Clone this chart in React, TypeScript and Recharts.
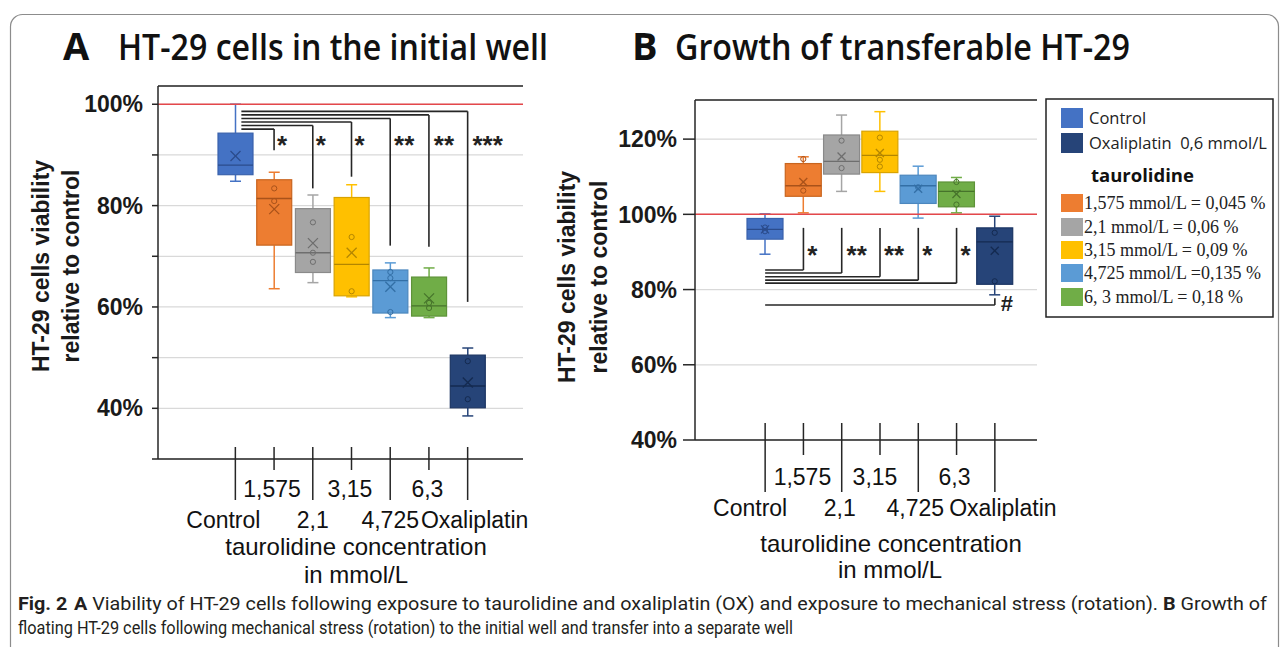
import React from "react";
import { ComposedChart, Bar, XAxis, YAxis, CartesianGrid, ReferenceLine, ReferenceDot } from "recharts";

// groups on the x axis (same order in both panels)
const categories = ["Control", "1,575", "2,1", "3,15", "4,725", "6,3", "Oxaliplatin"];

// Panel A: HT-29 cells in the initial well (% of control)
const aMin = [84.8, 63.6, 64.8, 62.0, 57.9, 57.9, 38.5];
const aQ1 = [86.1, 72.2, 66.8, 62.2, 58.8, 58.2, 40.1];
const aMedian = [88.0, 81.4, 70.7, 68.4, 65.2, 60.2, 44.4];
const aQ3 = [94.3, 85.1, 79.4, 81.6, 67.3, 65.9, 50.5];
const aMax = [100.0, 86.6, 82.1, 84.1, 68.7, 67.7, 51.9];
const aMean = [89.8, 79.3, 72.6, 70.7, 64.0, 61.7, 45.1];
const aPoints = [[], [83.4, 80.9], [76.7, 70.7, 68.9], [73.8, 63.1], [66.9, 65.7, 59.0], [60.8, 59.8], [49.3, 41.8]];

// Panel A significance brackets
const aSigTargets = ["1,575", "2,1", "3,15", "4,725", "6,3", "Oxaliplatin"];
const aSigLevel = [95.1, 95.8, 96.5, 97.2, 97.9, 98.6];
const aSigEnd = [90.9, 83.4, 85.7, 72.1, 71.9, 61.0];
const aSigMarks = ["*", "*", "*", "**", "**", "***"];
const aStarY = 93.2;

// Panel B: growth of transferable HT-29
const bMin = [89.4, 100.4, 106.1, 106.1, 99.0, 100.4, 78.6];
const bQ1 = [93.4, 104.8, 110.7, 111.1, 102.9, 102.0, 81.4];
const bMedian = [96.0, 107.6, 114.1, 115.7, 107.6, 106.1, 92.7];
const bQ3 = [98.9, 113.5, 121.1, 122.1, 110.4, 108.6, 96.4];
const bMax = [100.1, 115.3, 126.4, 127.3, 112.8, 109.8, 99.5];
const bMean = [96.0, 108.6, 115.4, 116.3, 106.8, 105.4, 90.3];
const bPoints = [[96.5, 95.5], [114.7, 106.3], [119.6, 112.3], [120.4, 114.5, 112.7], [107.2], [108.6, 102.6], [95.1, 82.2]];

// Panel B significance brackets
const bSigTargets = ["1,575", "2,1", "3,15", "4,725", "6,3"];
const bSigLevel = [85.2, 84.4, 83.4, 82.5, 81.7];
const bSigTop = 96.4;
const bSigMarks = ["*", "**", "**", "*", "*"];
const bStarY = 90.9;
const bHashLevel = 75.9;
const bHashTop = 77.7;

const legendDrug = ["Control", "Oxaliplatin  0,6 mmol/L"];
const legendTauro = [
  "1,575 mmol/L = 0,045 %",
  "2,1 mmol/L = 0,06 %",
  "3,15 mmol/L = 0,09 %",
  "4,725 mmol/L =0,135 %",
  "6, 3 mmol/L = 0,18 %",
];

const FILLS = ["#4472C4", "#ED7D31", "#A5A5A5", "#FFC000", "#5B9BD5", "#70AD47", "#264478"];
const EDGES = ["#3A62AC", "#C8651F", "#8A8A8A", "#D9A300", "#4C87BE", "#5E9339", "#1B3563"];
const DARK = ["#2B4C8C", "#A9521A", "#6E6E6E", "#B38600", "#336FA6", "#46732B", "#142a50"];

const SANS = "'Liberation Sans', Arial, sans-serif";
const LINE = "#262626";

const buildRows = (mn: number[], q1: number[], md: number[], q3: number[], mx: number[], mean: number[], pts: number[][]) =>
  categories.map((name, i) => ({ name, min: mn[i], q1: q1[i], median: md[i], q3: q3[i], max: mx[i], mean: mean[i], points: pts[i] }));

const rowsA = buildRows(aMin, aQ1, aMedian, aQ3, aMax, aMean, aPoints);
const rowsB = buildRows(bMin, bQ1, bMedian, bQ3, bMax, bMean, bPoints);

const boxRange = (d: any) => [d.min, d.max];

// box drawn inside the min..max range bar, using the bar's own pixel scale
const makeBox = (xSize: number) => (props: any) => {
  const { x, y, width, height, payload } = props;
  if (!payload) return <g />;
  const i = categories.indexOf(payload.name);
  const top = Math.min(y, y + height);
  const bottom = Math.max(y, y + height);
  const py = (v: number) => bottom - ((v - payload.min) / (payload.max - payload.min)) * (bottom - top);
  const cx = x + width / 2;
  const cap = 5.5;
  const yMean = py(payload.mean);
  return (
    <g>
      <line x1={cx} x2={cx} y1={py(payload.max)} y2={py(payload.q3)} stroke={FILLS[i]} strokeWidth={1.5} />
      <line x1={cx} x2={cx} y1={py(payload.q1)} y2={py(payload.min)} stroke={FILLS[i]} strokeWidth={1.5} />
      <line x1={cx - cap} x2={cx + cap} y1={py(payload.max)} y2={py(payload.max)} stroke={FILLS[i]} strokeWidth={1.5} />
      <line x1={cx - cap} x2={cx + cap} y1={py(payload.min)} y2={py(payload.min)} stroke={FILLS[i]} strokeWidth={1.5} />
      <rect x={x} y={py(payload.q3)} width={width} height={py(payload.q1) - py(payload.q3)} fill={FILLS[i]} stroke={EDGES[i]} strokeWidth={1.2} />
      <line x1={x} x2={x + width} y1={py(payload.median)} y2={py(payload.median)} stroke={DARK[i]} strokeWidth={1.3} />
      {payload.points.map((v: number, k: number) => (
        <circle key={k} cx={cx} cy={py(v)} r={2.6} fill="none" stroke={DARK[i]} strokeWidth={1} />
      ))}
      <line x1={cx - xSize} x2={cx + xSize} y1={yMean - xSize} y2={yMean + xSize} stroke={DARK[i]} strokeWidth={1.3} />
      <line x1={cx - xSize} x2={cx + xSize} y1={yMean + xSize} y2={yMean - xSize} stroke={DARK[i]} strokeWidth={1.3} />
    </g>
  );
};

type TickCfg = { top: number; longBottom: number; shortBottom: number; row1: number; row2: number; dx: number[] };
const TICK_A: TickCfg = { top: -12, longBottom: 41, shortBottom: 11, row1: 38, row2: 69, dx: [-12, -2, 0, -1.5, 0, -1.5, 7] };
const TICK_B: TickCfg = { top: -17, longBottom: 52, shortBottom: 15, row1: 45, row2: 76, dx: [-15, -1, -2, -5, -3, -2, 8] };

const CategoryTick = ({ x, y, payload, index, cfg }: any) => {
  const even = index % 2 === 0;
  return (
    <g>
      <line x1={x} x2={x} y1={y + cfg.top} y2={y + (even ? cfg.longBottom : cfg.shortBottom)} stroke={LINE} strokeWidth={1.5} />
      <text x={x + cfg.dx[index]} y={y + (even ? cfg.row2 : cfg.row1)} textAnchor="middle" fontSize={23} fontFamily={SANS} fill="#111">
        {payload.value}
      </text>
    </g>
  );
};

const yTick = { fontSize: 23, fontWeight: 700, fill: "#1a1a1a", fontFamily: SANS };

const shiftedLine = (dx: number) => (p: any) => (
  <line x1={p.x1 + dx} y1={p.y1} x2={p.x2} y2={p.y2} stroke={LINE} strokeWidth={1.6} />
);

const starText = (mark: string, dx: number, dy: number, size = 26) => (p: any) => (
  <text x={p.cx + dx} y={p.cy + dy} textAnchor="middle" fontSize={size} fontWeight={700} fontFamily={SANS} fill="#222">
    {mark}
  </text>
);

const aStarDx = [8, 8, 8, 14, 15, 20];
const bStarDx = [9, 15, 14, 9, 9];

function PanelA() {
  return (
    <ComposedChart width={540} height={600} data={rowsA} margin={{ top: 86, right: 17, bottom: 0, left: 0 }}>
      <CartesianGrid vertical={false} stroke="#d9d9d9" strokeWidth={1.2} />
      <XAxis
        dataKey="name"
        type="category"
        interval={0}
        height={141}
        padding={{ left: 58, right: 36 }}
        axisLine={{ stroke: LINE, strokeWidth: 1.5 }}
        tickLine={false}
        tickSize={0}
        tickMargin={0}
        tick={(p: any) => <CategoryTick {...p} cfg={TICK_A} />}
      />
      <YAxis
        type="number"
        width={158}
        domain={[30, 103.6]}
        ticks={[30, 40, 50, 60, 70, 80, 90, 100]}
        interval={0}
        allowDataOverflow
        tickFormatter={(v: number) => (v % 20 === 0 ? `${v}%` : "")}
        tick={yTick}
        tickSize={6}
        tickMargin={9}
        axisLine={{ stroke: LINE, strokeWidth: 1.5 }}
        tickLine={{ stroke: LINE, strokeWidth: 1.5 }}
      />
      <ReferenceLine y={103.6} stroke={LINE} strokeWidth={1.5} />
      <ReferenceLine y={100} stroke="#E4474B" strokeWidth={1.5} />
      <Bar dataKey={boxRange} barSize={35} shape={makeBox(5)} isAnimationActive={false} />
      {aSigTargets.map((t, i) => (
        <ReferenceLine
          key={`h${i}`}
          segment={[{ x: "Control", y: aSigLevel[i] }, { x: t, y: aSigLevel[i] }]}
          shape={shiftedLine(6)}
        />
      ))}
      {aSigTargets.map((t, i) => (
        <ReferenceLine
          key={`v${i}`}
          segment={[{ x: t, y: aSigLevel[i] }, { x: t, y: aSigEnd[i] }]}
          shape={shiftedLine(0)}
        />
      ))}
      {aSigTargets.map((t, i) => (
        <ReferenceDot key={`s${i}`} x={t} y={aStarY} r={1} shape={starText(aSigMarks[i], aStarDx[i], 15)} />
      ))}
    </ComposedChart>
  );
}

function PanelB() {
  return (
    <ComposedChart width={580} height={600} data={rowsB} margin={{ top: 100, right: 83, bottom: 0, left: 0 }}>
      <CartesianGrid vertical={false} stroke="#d9d9d9" strokeWidth={1.2} />
      <XAxis
        dataKey="name"
        type="category"
        interval={0}
        height={160}
        padding={{ left: 51, right: 23 }}
        axisLine={{ stroke: LINE, strokeWidth: 1.5 }}
        tickLine={false}
        tickSize={0}
        tickMargin={0}
        tick={(p: any) => <CategoryTick {...p} cfg={TICK_B} />}
      />
      <YAxis
        type="number"
        width={155}
        domain={[40, 130.4]}
        ticks={[40, 60, 80, 100, 120]}
        interval={0}
        allowDataOverflow
        tickFormatter={(v: number) => `${v}%`}
        tick={yTick}
        tickSize={12}
        tickMargin={6}
        axisLine={{ stroke: LINE, strokeWidth: 1.5 }}
        tickLine={{ stroke: LINE, strokeWidth: 1.5 }}
      />
      <ReferenceLine y={130.4} stroke={LINE} strokeWidth={1.5} />
      <ReferenceLine y={100} stroke="#E4474B" strokeWidth={1.5} />
      <Bar dataKey={boxRange} barSize={36} shape={makeBox(4)} isAnimationActive={false} />
      {bSigTargets.map((t, i) => (
        <ReferenceLine
          key={`h${i}`}
          segment={[{ x: "Control", y: bSigLevel[i] }, { x: t, y: bSigLevel[i] }]}
          shape={shiftedLine(0)}
        />
      ))}
      {bSigTargets.map((t, i) => (
        <ReferenceLine
          key={`v${i}`}
          segment={[{ x: t, y: bSigTop }, { x: t, y: bSigLevel[i] }]}
          shape={shiftedLine(0)}
        />
      ))}
      {bSigTargets.map((t, i) => (
        <ReferenceDot key={`s${i}`} x={t} y={bStarY} r={1} shape={starText(bSigMarks[i], bStarDx[i], 15)} />
      ))}
      <ReferenceLine segment={[{ x: "Control", y: bHashLevel }, { x: "Oxaliplatin", y: bHashLevel }]} shape={shiftedLine(0)} />
      <ReferenceLine segment={[{ x: "Oxaliplatin", y: bHashLevel }, { x: "Oxaliplatin", y: bHashTop }]} shape={shiftedLine(0)} />
      <ReferenceDot x="Oxaliplatin" y={bHashLevel} r={1} shape={starText("#", 12, 6, 22)} />
    </ComposedChart>
  );
}

function Overlay() {
  const swatchY = [108, 133];
  const tauroY = [194, 218, 241, 264, 288];
  const tauroFill = [FILLS[1], FILLS[2], FILLS[3], FILLS[4], FILLS[5]];
  const drugFill = [FILLS[0], FILLS[6]];
  return (
    <svg width={1287} height={647} style={{ position: "absolute", left: 0, top: 0, pointerEvents: "none" }}>
      <rect x={10.5} y={14.5} width={1268} height={700} rx={12} fill="none" stroke="#8c8c8c" strokeWidth={1.2} />

      {/* panel titles */}
      <text x={63} y={60} fontFamily="'Open Sans', sans-serif" fontWeight={700} fontSize={38} fill="#111">A</text>
      <text x={118} y={60} fontFamily="'Open Sans', sans-serif" fontWeight={600} fontSize={36} fill="#111" textLength={430} lengthAdjust="spacingAndGlyphs">
        HT-29 cells in the initial well
      </text>
      <text x={632} y={60} fontFamily="'Open Sans', sans-serif" fontWeight={700} fontSize={38} fill="#111">B</text>
      <text x={675} y={60} fontFamily="'Open Sans', sans-serif" fontWeight={600} fontSize={36} fill="#111" textLength={455} lengthAdjust="spacingAndGlyphs">
        Growth of transferable HT-29
      </text>

      {/* y-axis titles */}
      <g fontFamily={SANS} fontWeight={700} fontSize={23} fill="#1a1a1a" textAnchor="middle">
        <text transform="translate(48.5,266) rotate(-90)">HT-29 cells viability</text>
        <text transform="translate(78.5,266) rotate(-90)">relative to control</text>
        <text transform="translate(575,277) rotate(-90)">HT-29 cells viability</text>
        <text transform="translate(606.5,277) rotate(-90)">relative to control</text>
      </g>

      {/* x-axis titles */}
      <g fontFamily={SANS} fontSize={24} fill="#111" textAnchor="middle">
        <text x={356} y={555}>taurolidine concentration</text>
        <text x={356} y={583}>in mmol/L</text>
        <text x={891} y={552}>taurolidine concentration</text>
        <text x={890} y={578}>in mmol/L</text>
      </g>

      {/* legend */}
      <rect x={1046} y={99} width={227} height={218} fill="#fff" stroke="#222" strokeWidth={1.5} />
      {legendDrug.map((s, i) => (
        <g key={s}>
          <rect x={1061} y={swatchY[i]} width={22} height={20} fill={drugFill[i]} />
          <text x={1089} y={swatchY[i] + 16} fontFamily="'Open Sans', sans-serif" fontSize={16.5} fill="#222" xmlSpace="preserve">
            {s}
          </text>
        </g>
      ))}
      <text x={1091} y={182} fontFamily="'Open Sans', sans-serif" fontWeight={700} fontSize={18.5} fill="#111">
        taurolidine
      </text>
      {legendTauro.map((s, i) => (
        <g key={s}>
          <rect x={1061} y={tauroY[i]} width={22} height={18} fill={tauroFill[i]} />
          <text x={1084} y={tauroY[i] + 15} fontFamily="'Liberation Serif', 'Times New Roman', serif" fontSize={18} fill="#222">
            {s}
          </text>
        </g>
      ))}

      {/* caption */}
      <text x={18} y={610} fontFamily="Roboto, 'Noto Sans', sans-serif" fontSize={18} fill="#231f20" textLength={1249} lengthAdjust="spacingAndGlyphs">
        <tspan fontWeight={700}>Fig. 2</tspan>
        <tspan dx={6} fontWeight={700}>A</tspan>
        <tspan> Viability of HT-29 cells following exposure to taurolidine and oxaliplatin (OX) and exposure to mechanical stress (rotation). </tspan>
        <tspan fontWeight={700}>B</tspan>
        <tspan> Growth of</tspan>
      </text>
      <text x={18} y={634} fontFamily="Roboto, 'Noto Sans', sans-serif" fontSize={18} fill="#231f20" textLength={775} lengthAdjust="spacingAndGlyphs">
        floating HT-29 cells following mechanical stress (rotation) to the initial well and transfer into a separate well
      </text>
    </svg>
  );
}

export default function App() {
  return (
    <div style={{ position: "absolute", left: 0, top: 0, width: 1287, height: 647, background: "#fff", overflow: "hidden", fontFamily: SANS }}>
      <div style={{ position: "absolute", left: 0, top: 0 }}>
        <PanelA />
      </div>
      <div style={{ position: "absolute", left: 540, top: 0 }}>
        <PanelB />
      </div>
      <Overlay />
    </div>
  );
}
